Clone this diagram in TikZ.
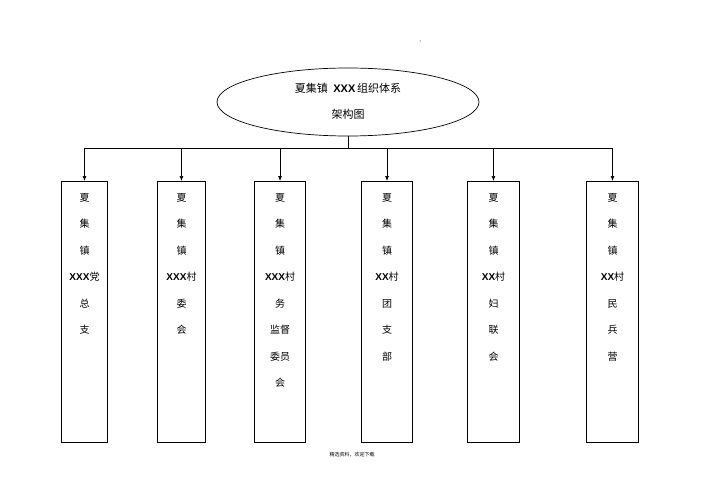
\documentclass[tikz,border=0pt]{standalone}
\usepackage{fontspec}
\setmainfont{Liberation Sans}
\newfontfamily\cjk{Noto Sans CJK SC}
\usetikzlibrary{shapes.geometric,arrows.meta}
\begin{document}
\begin{tikzpicture}[x=1pt,y=-1pt,
  vbox/.style={draw,line width=1pt,anchor=north west,inner sep=0pt},
  lbl/.style={font=\fontsize{10}{12}\selectfont\cjk,align=center},
  arr/.style={-{Latex[length=5pt,width=4pt]},line width=0.7pt},
  ln/.style={line width=0.7pt}]
\useasboundingbox (0,0) rectangle (708,500);
\fill (420,41) circle (0.5);
\node[draw,ellipse,line width=0.7pt,minimum width=262,minimum height=68] (top) at (348,102) {};
\node[lbl,font=\fontsize{11}{13}\selectfont\cjk] (t1) at (348,88) {夏集镇\enspace\textbf{\fontspec{Liberation Sans}XXX}\,组织体系};
\node[lbl,font=\fontsize{11}{13}\selectfont\cjk] (t2) at (348,114) {架构图};
\coordinate (bus) at (348,148);
\def\mk#1#2#3#4{\node[vbox,minimum width=#3,minimum height=261] (#1) at (#2,181) {};}
\mk{b1}{61}{46}{}
\mk{b2}{157}{48}{}
\mk{b3}{254}{51}{}
\mk{b4}{361}{51}{}
\mk{b5}{467}{52}{}
\mk{b6}{586}{52}{}
\draw[ln] (top.south) -- (bus);
\draw[ln] (b1.north |- bus) -- (b6.north |- bus);
\foreach \b in {b1,b2,b3,b4,b5,b6} \draw[arr] (\b.north |- bus) -- (\b.north);
\def\X{{\fontspec{Liberation Sans}\bfseries XXX}}
\def\XX{{\fontspec{Liberation Sans}\bfseries XX}}
\tikzset{col/.style={lbl,anchor=north,font=\fontsize{10}{26.5}\selectfont\cjk}}
\node[col] (c1) at ([yshift=-9]b1.north) {夏\\集\\镇\\\X 党\\总\\支};
\node[col] (c2) at ([yshift=-9]b2.north) {夏\\集\\镇\\\X 村\\委\\会};
\node[col] (c3) at ([yshift=-9]b3.north) {夏\\集\\镇\\\X 村\\务\\监督\\委员\\会};
\node[col] (c4) at ([yshift=-9]b4.north) {夏\\集\\镇\\\XX 村\\团\\支\\部};
\node[col] (c5) at ([yshift=-9]b5.north) {夏\\集\\镇\\\XX 村\\妇\\联\\会};
\node[col] (c6) at ([yshift=-9]b6.north) {夏\\集\\镇\\\XX 村\\民\\兵\\营};
\node[font=\fontsize{5}{6}\selectfont\cjk] (foot) at (352,455) {精选资料，欢迎下载};
\end{tikzpicture}
\end{document}
